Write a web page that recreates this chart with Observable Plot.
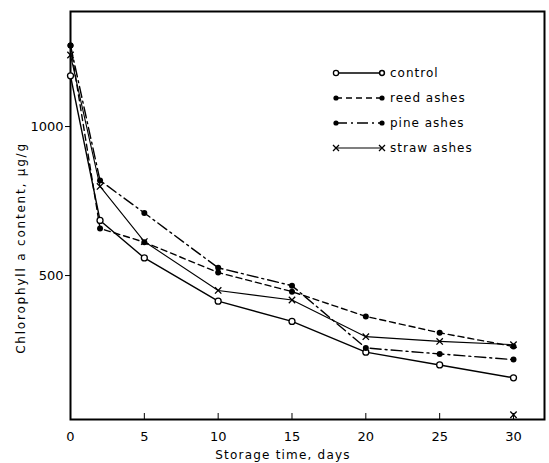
<!DOCTYPE html>
<html>
<head>
<meta charset="utf-8">
<script src="https://cdn.jsdelivr.net/npm/d3@7"></script>
<script src="https://cdn.jsdelivr.net/npm/@observablehq/plot@0.6"></script>
<style>
  html, body { margin: 0; padding: 0; background: #fff; }
  svg { font-family: "DejaVu Sans", sans-serif; }
</style>
</head>
<body>
<div id="chart"></div>
<script>
// ---- data ----
const days = [0, 2, 5, 10, 15, 20, 25, 30];
const control = [1170, 685, 559, 414, 346, 243, 200, 157];
const reedAshes = [1272, 658, 612, 510, 446, 363, 308, 262];
const pineAshes = [1272, 819, 710, 526, 466, 257, 237, 218];
const strawAshes = [1240, 799, 614, 450, 418, 295, 279, 268];
const seriesNames = ["control", "reed ashes", "pine ashes", "straw ashes"];
const xTicks = [0, 5, 10, 15, 20, 25, 30];
const yTicks = [500, 1000];
const xTitle = "Storage time, days";
const yTitle = "Chlorophyll a content, μg/g";
const strayDay = [30];
const strayValue = [33];

const values = [control, reedAshes, pineAshes, strawAshes];
const rows = [];
seriesNames.forEach((s, i) => days.forEach((d, j) => rows.push({series: s, day: d, value: values[i][j]})));
const of = s => rows.filter(r => r.series === s);

const dash = {"control": null, "reed ashes": "6,4", "pine ashes": "11,4,2,4", "straw ashes": null};
const width = {"control": 1.4, "reed ashes": 1.4, "pine ashes": 1.4, "straw ashes": 1.1};

const marks = [Plot.frame({strokeWidth: 2})];
for (const s of seriesNames) {
  marks.push(Plot.line(of(s), {x: "day", y: "value", stroke: "black", strokeWidth: width[s], strokeDasharray: dash[s]}));
}
marks.push(Plot.dot(of("control"), {x: "day", y: "value", r: 3, fill: "white", stroke: "black", strokeWidth: 1.3}));
marks.push(Plot.dot(of("reed ashes"), {x: "day", y: "value", r: 3, fill: "black"}));
marks.push(Plot.dot(of("pine ashes"), {x: "day", y: "value", r: 3, fill: "black"}));
marks.push(Plot.dot(of("straw ashes"), {x: "day", y: "value", r: 3, symbol: "times", stroke: "black", strokeWidth: 1.3}));
marks.push(Plot.dot(strayDay.map((d, i) => ({day: d, value: strayValue[i]})), {x: "day", y: "value", r: 3, symbol: "times", stroke: "black", strokeWidth: 1.3}));
marks.push(Plot.axisX({ticks: xTicks, tickFormat: d => String(d), tickSize: -6, tickPadding: 18, fontSize: 13, fontWeight: 500, label: null}));
marks.push(Plot.axisY({ticks: yTicks, tickFormat: d => String(d), tickSize: 5, tickPadding: 2, fontSize: 13, fontWeight: 500, label: null}));

const chart = Plot.plot({
  width: 549,
  height: 463,
  marginLeft: 70,
  marginRight: 5,
  marginTop: 11,
  marginBottom: 44,
  style: {fontFamily: "DejaVu Sans, sans-serif", fontSize: "12px", color: "black", background: "white"},
  x: {domain: [0, 32.1]},
  y: {domain: [17, 1386]},
  marks
});

const svg = d3.select(chart);
// axis titles
svg.append("text").attr("x", 283).attr("y", 455).attr("dy", "0.35em").attr("text-anchor", "middle")
  .attr("font-size", 12).attr("letter-spacing", "1.2px").text(xTitle);
svg.append("text").attr("transform", "translate(21,248) rotate(-90)").attr("dy", "0.35em").attr("text-anchor", "middle")
  .attr("font-size", 12).attr("letter-spacing", "1.8px").text(yTitle);

// legend inside the plot area (pixel layout)
const lg = svg.append("g").attr("font-size", 12).attr("letter-spacing", "1px").attr("text-anchor", "start");
const legendRows = [73, 98, 123, 148];
seriesNames.forEach((s, i) => {
  const y = legendRows[i];
  const g = lg.append("g");
  g.append("line").attr("x1", 336).attr("x2", 382).attr("y1", y).attr("y2", y)
    .attr("stroke", "black").attr("stroke-width", width[s]).attr("stroke-dasharray", dash[s]);
  if (s === "straw ashes") {
    for (const cx of [336, 382]) {
      g.append("path").attr("d", `M${cx-3},${y-3}L${cx+3},${y+3}M${cx-3},${y+3}L${cx+3},${y-3}`).attr("stroke", "black").attr("stroke-width", 1.3);
    }
  } else if (s === "control") {
    g.append("circle").attr("cx", 336).attr("cy", y).attr("r", 2.6).attr("fill", "white").attr("stroke", "black").attr("stroke-width", 1.3);
    g.append("circle").attr("cx", 382).attr("cy", y).attr("r", 2.4).attr("fill", "white").attr("stroke", "black").attr("stroke-width", 1.5);
  } else {
    for (const cx of [336, 382]) g.append("circle").attr("cx", cx).attr("cy", y).attr("r", 2.6).attr("fill", "black");
  }
  g.append("text").attr("x", 390).attr("y", y).attr("dy", "0.35em").text(s);
});

document.getElementById("chart").appendChild(chart);
</script>
</body>
</html>
